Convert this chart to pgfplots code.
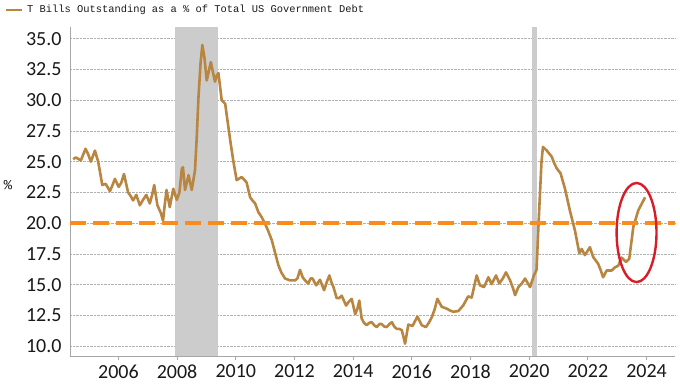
\documentclass[border=0pt]{standalone}
\usepackage{pgfplots}
\pgfplotsset{compat=1.18}
\usepackage{fontspec}
\setmainfont{Carlito}
\newfontfamily\monofont{Liberation Mono}
\definecolor{series}{RGB}{184,134,64}
\definecolor{dashor}{RGB}{250,140,30}
\definecolor{recess}{RGB}{204,204,204}
\definecolor{ringred}{RGB}{215,30,40}
\definecolor{txt}{RGB}{25,25,25}
\begin{document}
\begin{tikzpicture}
\begin{axis}[
  name=ax,
  scale only axis,
  width=605pt, height=329pt,
  xmin=2004.35, xmax=2024.97,
  ymin=9.2, ymax=35.95,
  axis x line*=bottom, axis y line*=left,
  axis line style={draw=black!35, line width=0.9pt, -},
  xtick={2006,2008,...,2024},
  ytick={10,12.5,...,35},
  /pgf/number format/assume math mode=true,
  xticklabel style={/pgf/number format/1000 sep={}, font=\fontsize{20}{20}\selectfont, text=txt, yshift=-1pt},
  yticklabel style={/pgf/number format/.cd, fixed, fixed zerofill, precision=1, /tikz/.cd, font=\fontsize{20}{20}\selectfont, text=txt, xshift=-1pt},
  xtick style={draw=black!35, line width=0.8pt},
  ytick style={draw=none},
  tick align=outside,
  major tick length=4pt,
  xtick pos=bottom,
  ymajorgrids,
  major grid style={densely dotted, black!30, line width=0.7pt},
  ylabel={\%},
  ylabel style={at={(axis description cs:-0.1025,0.52)}, anchor=center, rotate=90, font=\monofont\fontsize{14}{14}\selectfont, text=txt},
  clip=false,
]
\fill[recess] (axis cs:2007.93,9.2) rectangle (axis cs:2009.41,35.95);
\fill[recess] (axis cs:2020.09,9.2) rectangle (axis cs:2020.26,35.95);
\addplot[series, line width=2.6pt, line join=round] coordinates {
(2004.46,25.2) (2004.55,25.35) (2004.65,25.2) (2004.72,25.1) (2004.88,26.05) (2004.97,25.6)
(2005.06,25.0) (2005.2,25.9) (2005.31,25.0) (2005.37,24.2) (2005.45,23.1) (2005.56,23.2)
(2005.64,22.9) (2005.71,22.6) (2005.8,23.1) (2005.88,23.6) (2006.01,22.95) (2006.1,23.3)
(2006.19,24.0) (2006.33,22.5) (2006.42,22.2) (2006.5,21.85) (2006.61,22.3) (2006.73,21.45)
(2006.84,21.9) (2006.95,22.3) (2007.07,21.6) (2007.15,22.3) (2007.22,23.1) (2007.33,21.45)
(2007.45,20.8) (2007.52,20.2) (2007.58,21.5) (2007.64,22.7) (2007.75,21.3) (2007.87,22.8)
(2007.99,21.9) (2008.08,22.5) (2008.16,24.4) (2008.2,24.55) (2008.27,22.7) (2008.39,23.9)
(2008.5,22.7) (2008.61,24.3) (2008.67,27.0) (2008.73,30.3) (2008.8,33.0) (2008.86,34.5)
(2008.93,33.5) (2009.01,31.6) (2009.15,33.1) (2009.22,32.3) (2009.29,31.5) (2009.35,32.0)
(2009.41,32.2) (2009.47,31.0) (2009.52,30.0) (2009.64,29.7) (2009.72,28.3) (2009.81,26.75)
(2009.92,25.0) (2010.03,23.5) (2010.2,23.75) (2010.3,23.5) (2010.37,23.3) (2010.49,22.1)
(2010.55,21.9) (2010.66,21.6) (2010.77,20.9) (2010.88,20.5) (2011.0,19.95) (2011.1,19.4)
(2011.23,18.6) (2011.35,17.5) (2011.45,16.6) (2011.55,16.0) (2011.68,15.5) (2011.85,15.35)
(2012.02,15.35) (2012.1,15.5) (2012.19,16.2) (2012.28,15.6) (2012.36,15.35) (2012.47,15.1)
(2012.55,15.5) (2012.62,15.5) (2012.68,15.2) (2012.74,14.95) (2012.87,15.4) (2013.01,14.55)
(2013.1,15.2) (2013.19,15.75) (2013.26,15.2) (2013.33,14.8) (2013.44,13.9) (2013.52,13.9)
(2013.61,14.1) (2013.76,13.3) (2013.85,13.6) (2013.95,13.85) (2014.07,12.6) (2014.14,13.0)
(2014.21,13.7) (2014.29,12.25) (2014.37,11.9) (2014.46,11.7) (2014.55,11.9) (2014.63,11.95)
(2014.72,11.7) (2014.8,11.55) (2014.9,11.8) (2014.97,11.8) (2015.06,11.6) (2015.14,11.55)
(2015.24,11.8) (2015.32,11.95) (2015.4,11.6) (2015.49,11.4) (2015.58,11.4) (2015.66,11.3)
(2015.77,10.2) (2015.88,11.75) (2016.03,11.65) (2016.1,12.0) (2016.19,12.4) (2016.34,11.7)
(2016.48,11.55) (2016.58,11.9) (2016.68,12.35) (2016.78,13.0) (2016.87,13.85) (2017.02,13.2)
(2017.19,13.05) (2017.3,12.9) (2017.41,12.8) (2017.58,12.85) (2017.75,13.3) (2017.92,14.05)
(2018.04,13.95) (2018.12,14.8) (2018.21,15.75) (2018.32,14.95) (2018.46,14.8) (2018.61,15.6)
(2018.72,15.05) (2018.87,15.75) (2018.98,15.1) (2019.1,15.5) (2019.21,16.0) (2019.35,15.35)
(2019.45,14.7) (2019.52,14.15) (2019.63,14.8) (2019.75,15.1) (2019.86,15.5) (2020.03,14.8)
(2020.16,15.75) (2020.25,16.2) (2020.33,20.5) (2020.42,25.0) (2020.47,26.2) (2020.6,25.9)
(2020.77,25.4) (2020.85,24.9) (2020.94,24.45) (2021.07,24.05) (2021.22,22.8) (2021.39,21.0)
(2021.56,19.4) (2021.71,17.55) (2021.79,17.9) (2021.9,17.4) (2022.07,18.05) (2022.18,17.25)
(2022.35,16.7) (2022.45,16.1) (2022.52,15.6) (2022.64,16.15) (2022.81,16.15) (2022.92,16.4)
(2023.04,16.55) (2023.15,17.2) (2023.3,16.85) (2023.41,17.1) (2023.55,19.7) (2023.72,21.05)
(2023.95,22.1)
};
\addplot[dashor, line width=4.5pt, dash pattern=on 16pt off 7pt] coordinates {(2004.35,20) (2024.97,20)};
\draw[ringred, line width=2.4pt] (axis cs:2023.66,19.24) ellipse [x radius=0.68, y radius=4.03];
\end{axis}
\draw[series, line width=2pt] ([xshift=-64pt,yshift=17pt]ax.north west) -- ++(16pt,0);
\node[anchor=west, inner sep=0pt, text=txt, font=\monofont\fontsize{10.4}{10.4}\selectfont] at ([xshift=-43pt,yshift=17pt]ax.north west) {T Bills Outstanding as a \% of Total US Government Debt};
\pgfresetboundingbox
\useasboundingbox ([xshift=-70pt,yshift=-27pt]ax.south west) rectangle ([xshift=5pt,yshift=27pt]ax.north east);
\end{tikzpicture}
\end{document}
